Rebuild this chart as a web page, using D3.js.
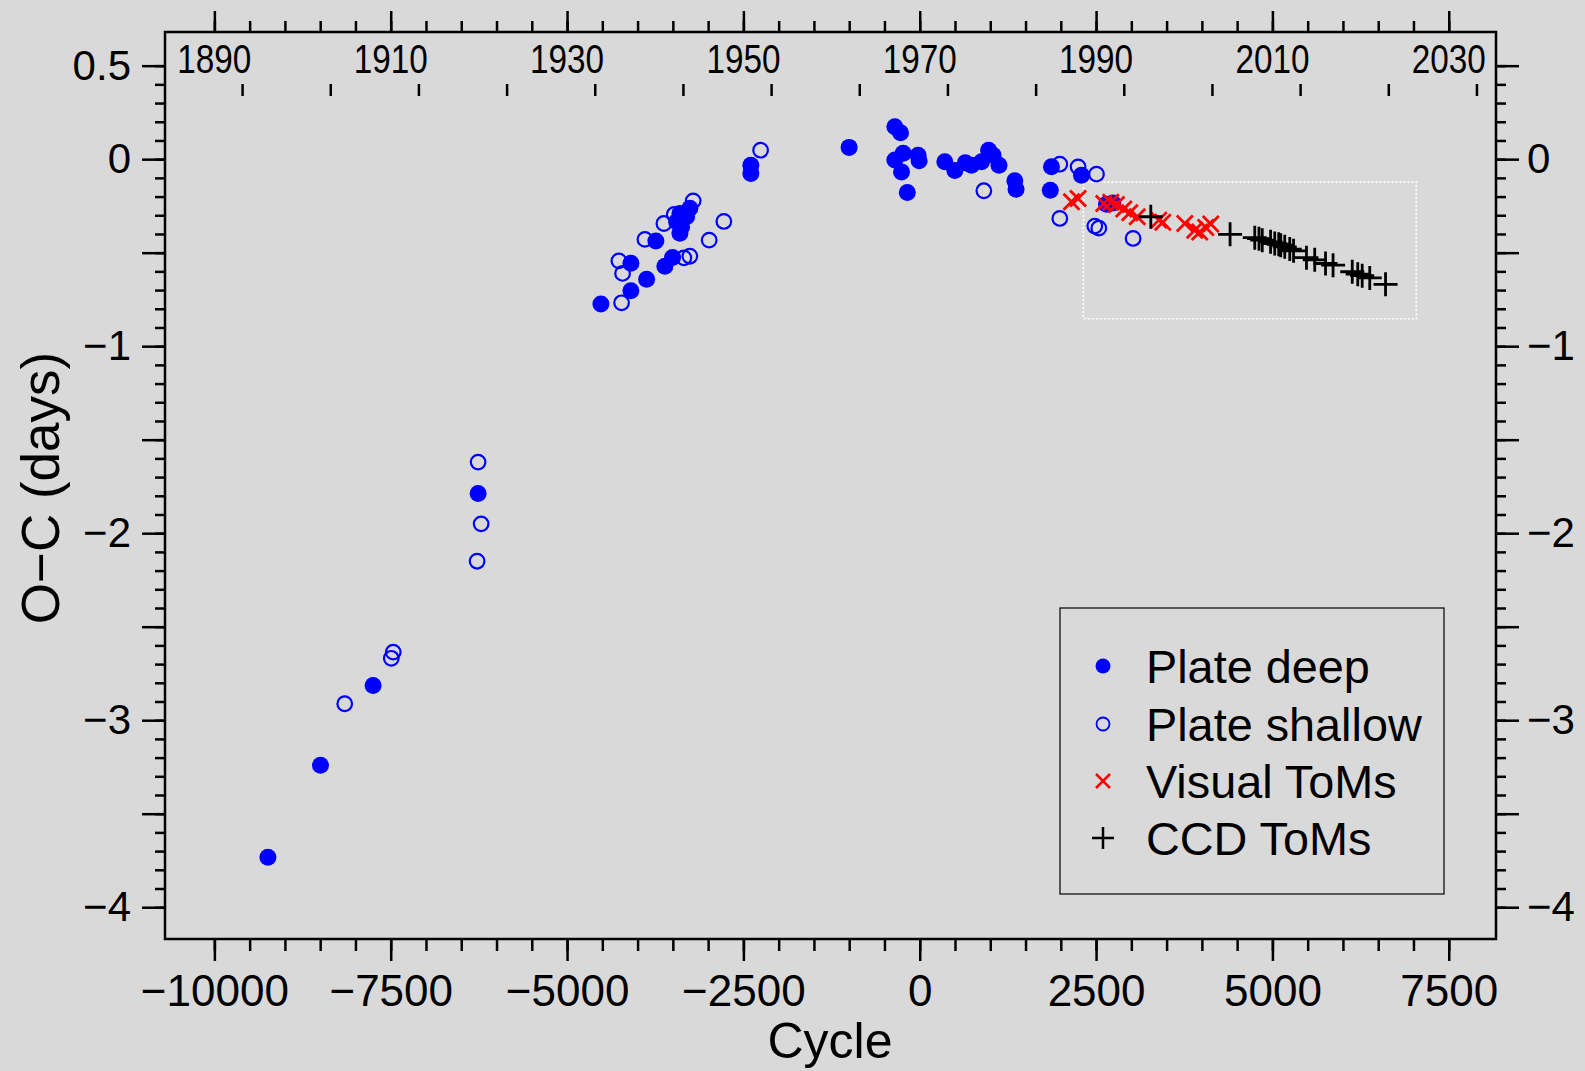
<!DOCTYPE html>
<html>
<head>
<meta charset="utf-8">
<script src="https://cdn.jsdelivr.net/npm/d3@7"></script>
<style>
body { margin: 0; background: #d9d9d9; }
svg { display: block; font-family: "Liberation Sans", Arial, Helvetica, sans-serif; }
</style>
</head>
<body>
<svg id="chart" width="1585" height="1071"></svg>
<script>
// data: [cycle, O-C in days]
const plateDeep = [
  [-9241, -3.733], [-8496, -3.241], [-7750, -2.815], [-6261, -1.788],
  [-4520, -0.775], [-4095, -0.704], [-3872, -0.642], [-4095, -0.556],
  [-3741, -0.437], [-3613, -0.572], [-3504, -0.526], [-3400, -0.396],
  [-3259, -0.262], [-3305, -0.308], [-3447, -0.335], [-3376, -0.362],
  [-3400, -0.290], [-2394, -0.032], [-2394, -0.076], [-1001, 0.063],
  [-353, 0.173], [-272, 0.141], [-235, 0.032], [-353, -0.005],
  [-258, -0.068], [-176, -0.178], [-23, 0.021], [-8, -0.008],
  [356, -0.014], [498, -0.061], [646, -0.019], [734, -0.032],
  [876, -0.014], [977, 0.048], [1040, 0.021], [1124, -0.032],
  [1348, -0.115], [1366, -0.161], [1868, -0.040], [1851, -0.166],
  [2293, -0.086], [2648, -0.241], [2737, -0.235]
];
const plateShallow = [
  [-6261, -1.620], [-6218, -1.950], [-6275, -2.150], [-7464, -2.636],
  [-7492, -2.669], [-8152, -2.912], [-4227, -0.768], [-4213, -0.611],
  [-4265, -0.544], [-3896, -0.429], [-3627, -0.344], [-3481, -0.296],
  [-3212, -0.223], [-2777, -0.333], [-2985, -0.433], [-3259, -0.519],
  [-3344, -0.528], [-2256, 0.048], [909, -0.169], [1986, -0.027],
  [2245, -0.041], [2506, -0.080], [1986, -0.317], [2482, -0.358],
  [2539, -0.369], [3025, -0.424]
];
const visualToMs = [
  [2152, -0.228], [2245, -0.210], [2609, -0.237], [2709, -0.230],
  [2789, -0.243], [2893, -0.267], [2978, -0.286], [3084, -0.308],
  [3389, -0.326], [3446, -0.337], [3758, -0.344], [3899, -0.380],
  [3970, -0.389], [4055, -0.366], [4126, -0.347]
];
const ccdToMs = [
  [3276, -0.308], [4400, -0.402], [4750, -0.420], [4810, -0.425],
  [4856, -0.433], [4974, -0.442], [5033, -0.451], [5090, -0.455],
  [5118, -0.460], [5175, -0.469], [5246, -0.481], [5300, -0.490],
  [5483, -0.527], [5600, -0.538], [5753, -0.558], [5860, -0.567],
  [6132, -0.602], [6210, -0.615], [6273, -0.623], [6380, -0.635],
  [6604, -0.669]
];
// dotted box: [cycle min, cycle max], [O-C min, O-C max]
const boxCycle = [2320, 7040];
const boxOC = [-0.853, -0.123];

const legendLabels = ["Plate deep", "Plate shallow", "Visual ToMs", "CCD ToMs"];

// ticks
const cycleMajor = [-10000, -7500, -5000, -2500, 0, 2500, 5000, 7500];
const cycleMinor = d3.range(-10000, 7501, 500);
const yearMajor = [1890, 1910, 1930, 1950, 1970, 1990, 2010, 2030];
const yearMinor = d3.range(1890, 2031, 4);
const yearInner = d3.range(1893.2, 2035, 10);
const ocMajor = d3.range(-8, 2).map(d => d / 2);
const ocMinor = d3.range(-40, 6).map(d => d / 10);
const ocLeftLabels = [0.5, 0, -1, -2, -3, -4];
const ocRightLabels = [0, -1, -2, -3, -4];

const svg = d3.select("#chart");
const pLeft = 165, pRight = 1496, pTop = 32, pBottom = 939;

const x = d3.scaleLinear().domain([-10700, 8170]).range([pLeft, pRight]);
const y = d3.scaleLinear().domain([-4.17, 0.68]).range([pBottom, pTop]);
// 20 years = 2500 cycles, 1890 ~ cycle -10000
const yr = d3.scaleLinear()
  .domain([1890 + (-10700 + 10000) * 0.008, 1890 + (8170 + 10000) * 0.008])
  .range([pLeft, pRight]);

svg.append("rect").attr("width", 1585).attr("height", 1071).attr("fill", "#d9d9d9");

const fmt = d3.format("d");
const fmtY = d3.format("~g");

function styleAxis(g) {
  g.select(".domain").remove();
  g.selectAll(".tick line").attr("stroke", "#000").attr("stroke-width", 2.5);
  g.selectAll(".tick text").attr("fill", "#000");
}

// bottom axis
svg.append("g").attr("transform", `translate(0,${pBottom})`)
  .call(d3.axisBottom(x).tickValues(cycleMinor).tickSize(12).tickFormat(""))
  .call(styleAxis);
svg.append("g").attr("transform", `translate(0,${pBottom})`)
  .call(d3.axisBottom(x).tickValues(cycleMajor).tickSize(22).tickPadding(14).tickFormat(fmt))
  .call(styleAxis)
  .selectAll("text").attr("font-size", 44);

// top axis (years), labels sit inside the frame
svg.append("g").attr("transform", `translate(0,${pTop})`)
  .call(d3.axisTop(yr).tickValues(yearMinor).tickSize(11).tickFormat(""))
  .call(styleAxis);
svg.append("g").attr("transform", `translate(0,${pTop})`)
  .call(d3.axisTop(yr).tickValues(yearMajor).tickSize(21).tickFormat(""))
  .call(styleAxis);
svg.append("g").selectAll("text").data(yearMajor).join("text")
  .attr("x", d => yr(d) - 37).attr("y", 73)
  .attr("font-size", 40)
  .attr("textLength", 74).attr("lengthAdjust", "spacingAndGlyphs")
  .text(d => d);
svg.append("g").selectAll("line").data(yearInner).join("line")
  .attr("x1", d => yr(d)).attr("x2", d => yr(d))
  .attr("y1", 84).attr("y2", 96)
  .attr("stroke", "#000").attr("stroke-width", 2.5);

// left axis
svg.append("g").attr("transform", `translate(${pLeft},0)`)
  .call(d3.axisLeft(y).tickValues(ocMinor).tickSize(10).tickFormat(""))
  .call(styleAxis);
svg.append("g").attr("transform", `translate(${pLeft},0)`)
  .call(d3.axisLeft(y).tickValues(ocMajor).tickSize(23).tickPadding(11)
    .tickFormat(d => ocLeftLabels.includes(d) ? fmtY(d) : ""))
  .call(styleAxis)
  .selectAll("text").attr("font-size", 42);

// right axis
svg.append("g").attr("transform", `translate(${pRight},0)`)
  .call(d3.axisRight(y).tickValues(ocMinor).tickSize(10).tickFormat(""))
  .call(styleAxis);
svg.append("g").attr("transform", `translate(${pRight},0)`)
  .call(d3.axisRight(y).tickValues(ocMajor).tickSize(23).tickPadding(8)
    .tickFormat(d => ocRightLabels.includes(d) ? fmtY(d) : ""))
  .call(styleAxis)
  .selectAll("text").attr("font-size", 42);

// frame
svg.append("rect").attr("x", pLeft).attr("y", pTop)
  .attr("width", pRight - pLeft).attr("height", pBottom - pTop)
  .attr("fill", "none").attr("stroke", "#000").attr("stroke-width", 2.5);

// axis titles
svg.append("text").attr("x", 830).attr("y", 1058).attr("text-anchor", "middle")
  .attr("font-size", 50).text("Cycle");
svg.append("text").attr("transform", "translate(59,488) rotate(-90)")
  .attr("text-anchor", "middle").attr("font-size", 53).text("O\u2212C (days)");

// dotted box
svg.append("rect")
  .attr("x", x(boxCycle[0])).attr("y", y(boxOC[1]))
  .attr("width", x(boxCycle[1]) - x(boxCycle[0]))
  .attr("height", y(boxOC[0]) - y(boxOC[1]))
  .attr("fill", "none").attr("stroke", "#fff").attr("stroke-width", 1.6)
  .attr("stroke-dasharray", "2,2");

// markers
const crossPath = "M-8,-8L8,8M-8,8L8,-8";
const plusPath = "M-12,0H12M0,-12V12";

function drawSeries(data, kind) {
  const g = svg.append("g");
  if (kind == "deep") {
    g.selectAll("circle").data(data).join("circle")
      .attr("cx", d => x(d[0])).attr("cy", d => y(d[1])).attr("r", 8.5)
      .attr("fill", "#0000ff");
  } else if (kind == "shallow") {
    g.selectAll("circle").data(data).join("circle")
      .attr("cx", d => x(d[0])).attr("cy", d => y(d[1])).attr("r", 7.3)
      .attr("fill", "none").attr("stroke", "#0000ff").attr("stroke-width", 2.2);
  } else {
    g.selectAll("path").data(data).join("path")
      .attr("transform", d => `translate(${x(d[0])},${y(d[1])})`)
      .attr("d", kind == "visual" ? crossPath : plusPath)
      .attr("fill", "none")
      .attr("stroke", kind == "visual" ? "#ff0000" : "#000")
      .attr("stroke-width", 2.8);
  }
}
drawSeries(plateShallow, "shallow");
drawSeries(plateDeep, "deep");
drawSeries(visualToMs, "visual");
drawSeries(ccdToMs, "ccd");

// legend
const lg = svg.append("g");
lg.append("rect").attr("x", 1060).attr("y", 608).attr("width", 384).attr("height", 286)
  .attr("fill", "none").attr("stroke", "#000").attr("stroke-width", 1.2);
const rowY = [666, 724, 781, 838];
lg.append("circle").attr("cx", 1103).attr("cy", rowY[0]).attr("r", 7.5).attr("fill", "#0000ff");
lg.append("circle").attr("cx", 1103).attr("cy", rowY[1]).attr("r", 6.5)
  .attr("fill", "none").attr("stroke", "#0000ff").attr("stroke-width", 1.8);
lg.append("path").attr("transform", `translate(1103,${rowY[2]})`).attr("d", "M-7,-7L7,7M-7,7L7,-7")
  .attr("stroke", "#ff0000").attr("stroke-width", 2.5);
lg.append("path").attr("transform", `translate(1103,${rowY[3]})`).attr("d", "M-11,0H11M0,-11V11")
  .attr("stroke", "#000").attr("stroke-width", 2.5);
lg.selectAll("text").data(legendLabels).join("text")
  .attr("x", 1146).attr("y", (d, i) => rowY[i]).attr("dy", "0.36em")
  .attr("font-size", 46.8).text(d => d);
</script>
</body>
</html>
